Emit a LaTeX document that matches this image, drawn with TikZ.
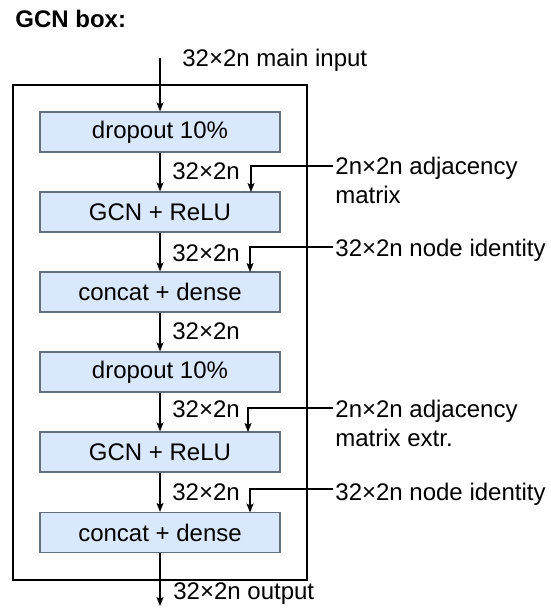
\documentclass[tikz,border=0pt]{standalone}
\usepackage{fontspec}
\setmainfont{Liberation Sans}
\usetikzlibrary{arrows.meta}
\definecolor{boxfill}{HTML}{DAE8FC}
\definecolor{boxline}{RGB}{100,110,125}
\begin{document}
\begin{tikzpicture}[x=0.5pt,y=-0.5pt,
  every node/.style={font=\fontsize{12}{14}\selectfont, inner sep=0pt},
  layer/.style={draw=boxline, fill=boxfill, line width=0.6pt,
                minimum width=120pt, minimum height=20pt},
  flow/.style={-{Stealth[length=4.5pt,width=3.5pt,inset=1pt]}, line width=0.55pt},
  txt/.style={anchor=base west},
  ]
\useasboundingbox (0,0) rectangle (550,608);

% title
\node[txt, font=\bfseries\fontsize{12}{14}\selectfont] (title) at (15,28) {GCN box:};

% enclosing frame
\draw[line width=0.6pt] (13,85) rectangle (307,580);

% layer stack
\node[layer] (b1) at (160,132)   {dropout 10\%};
\node[layer] (b2) at (160,212)   {GCN + ReLU};
\node[layer] (b3) at (160,292)   {concat + dense};
\node[layer] (b4) at (160,372)   {dropout 10\%};
\node[layer] (b5) at (160,452)   {GCN + ReLU};
\node[layer] (b6) at (160,532.5) {concat + dense};

% main input / output
\coordinate (in)  at (160,58);
\coordinate (out) at (160,606);
\draw[flow] (in) -- (b1.north);
\draw[flow] (b6.south) -- (out);
\node[txt] (inlbl)  at (182,67)  {32×2n main input};
\node[txt] (outlbl) at (173,599) {32×2n output};

% flow between layers
\draw[flow] (b1.south) -- (b2.north);
\draw[flow] (b2.south) -- (b3.north);
\draw[flow] (b3.south) -- (b4.north);
\draw[flow] (b4.south) -- (b5.north);
\draw[flow] (b5.south) -- (b6.north);
\node[txt] (d12) at (172,180) {32×2n};
\node[txt] (d23) at (172,262) {32×2n};
\node[txt] (d34) at (172,339) {32×2n};
\node[txt] (d45) at (172,417) {32×2n};
\node[txt] (d56) at (172,500) {32×2n};

% side inputs
\node[txt] (adjA)  at (335,175) {2n×2n adjacency};
\node[txt] (adjA2) at (335,204) {matrix};
\node[txt] (idA)   at (335,257) {32×2n node identity};
\node[txt] (adjB)  at (335,417) {2n×2n adjacency};
\node[txt] (adjB2) at (335,446) {matrix extr.};
\node[txt] (idB)   at (335,500) {32×2n node identity};

\coordinate (sA1) at (333,166);
\coordinate (sA2) at (333,247);
\coordinate (sB1) at (333,408);
\coordinate (sB2) at (333,489);
\coordinate (tA1) at (251,192);
\coordinate (tA2) at (250,272);
\coordinate (tB1) at (248,432);
\coordinate (tB2) at (250,512.5);

\draw[flow] (sA1) -| (tA1);
\draw[flow] (sA2) -| (tA2);
\draw[flow] (sB1) -| (tB1);
\draw[flow] (sB2) -| (tB2);
\end{tikzpicture}
\end{document}
